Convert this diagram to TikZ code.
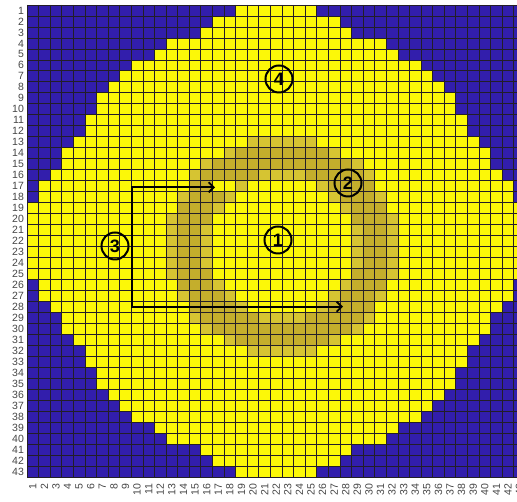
\documentclass[tikz,border=0pt]{standalone}
\usepackage{fontspec}
\setmainfont{Liberation Sans}
\usetikzlibrary{arrows.meta}
\definecolor{gblue}{RGB}{50,30,172}
\definecolor{gyellow}{RGB}{252,248,8}
\definecolor{golive}{RGB}{196,174,44}
\definecolor{golivel}{RGB}{214,196,50}
\definecolor{gline}{RGB}{35,30,40}
\definecolor{glabel}{RGB}{70,70,70}
\tikzset{
  gridline/.style={draw=gline, line width=0.75pt},
  rowlabel/.style={anchor=east, inner sep=0pt, text=glabel, font=\fontsize{10.5}{10.5}\selectfont},
  collabel/.style={anchor=east, rotate=90, inner sep=0pt, text=glabel, font=\fontsize{10.5}{10.5}\selectfont},
  circlab/.style={circle, draw=black, line width=2pt, minimum size=27pt, inner sep=0pt, font=\fontsize{18}{18}\selectfont\bfseries},
  flow/.style={draw=black, line width=1.9pt, {Straight Barb[length=5pt,width=10pt]}-{Straight Barb[length=5pt,width=10pt]}}
}
\begin{document}
\begin{tikzpicture}[x=1pt,y=1pt]
\path[use as bounding box] (0,0) rectangle (517,502);
\fill[white] (0,0) rectangle (517,502);
\begin{scope}
\clip (0,0) rectangle (517,502);
\begin{scope}[shift={(27,497)}, x=11.59pt, y=-10.98pt]
\foreach \r in {1,...,43} {
  \pgfmathtruncatemacro{\rdist}{abs(22-\r)}
  \pgfmathtruncatemacro{\hw}{{21,21,21,21,20,20,19,18,18,17,16,16,15,15,14,13,12,10,9,6,5,3}[\rdist]}
  \foreach \c in {1,...,43} {
    \pgfmathtruncatemacro{\cdist}{abs(22-\c)}
    \pgfmathsetmacro{\rr}{sqrt((\c-22.5)^2+(\r-22.5)^2)}
    \pgfmathtruncatemacro{\code}{\cdist>\hw ? 0 : (\rr<6.2 ? 1 : (\rr>10.1 ? 1 : ((\rr<6.9 || \rr>9.4) ? 2 : 3)))}
    \ifcase\code \def\cc{gblue}\or\def\cc{gyellow}\or\def\cc{golivel}\or\def\cc{golive}\fi
    \fill[\cc] (\c-1,\r-1) rectangle (\c,\r);
  }
}
% bright gap near the upper arrow tip
\fill[gyellow] (16,16) rectangle (18,17);
\foreach \i in {0,...,43} {
  \draw[gridline] (\i,0) -- (\i,43);
  \draw[gridline] (0,\i) -- (43,\i);
}
\foreach \r in {1,...,43} {
  \node[rowlabel] (row\r) at (-0.25,\r-0.5) {\r};
}
\foreach \c in {1,...,43} {
  \node[collabel] (col\c) at (\c-0.5,43.6) {\c};
}
\end{scope}
\end{scope}
\node[circlab] (n4) at (279,423) {4};
\node[circlab] (n2) at (348,319) {2};
\node[circlab] (n1) at (278,262) {1};
\node[circlab] (n3) at (115,256) {3};
\coordinate (tipA) at (215,314.7);
\coordinate (cornA) at (131.7,314.7);
\coordinate (cornB) at (131.7,195.3);
\coordinate (tipB) at (343,195.3);
\draw[flow] (tipA) -- (cornA) -- (cornB) -- (tipB);
\end{tikzpicture}
\end{document}
